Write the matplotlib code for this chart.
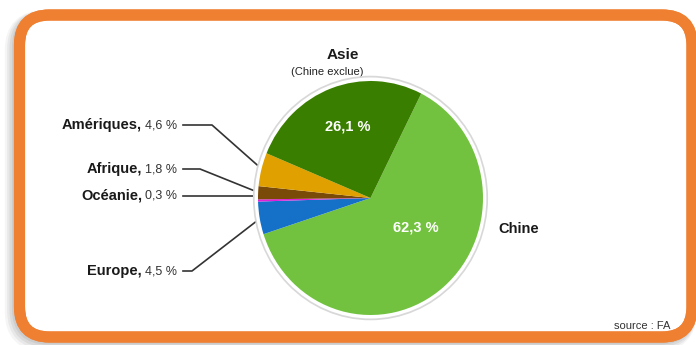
import numpy as np
import matplotlib.pyplot as plt
from matplotlib.patches import FancyBboxPatch, Circle

# Data
regions = ['Chine', 'Europe', 'Océanie', 'Afrique', 'Amériques', 'Asie']
shares = [62.3, 4.5, 0.3, 1.8, 4.6, 26.1]
colors = ['#72c240', '#1570c8', '#e020d8', '#7a4a08', '#e0a000', '#3a7e00']
side_labels = ['Amériques', 'Afrique', 'Océanie', 'Europe']
side_values = ['4,6 %', '1,8 %', '0,3 %', '4,5 %']

W, H = 696, 345
fig = plt.figure(figsize=(W / 100, H / 100), dpi=100)
fig.patch.set_facecolor('white')

# background axes in pixel coords
bg = fig.add_axes([0, 0, 1, 1])
bg.set_xlim(0, W)
bg.set_ylim(H, 0)
bg.axis('off')

# frame shadow + orange rounded border
for i, a in enumerate([0.06, 0.06, 0.05, 0.04]):
    sh = FancyBboxPatch((19.5 - 2 - i, 15 + 2 + i), 672.5, 322,
                        boxstyle='round,pad=0,rounding_size=30',
                        fc='none', ec='black', lw=8 + 2 * i, alpha=a, zorder=1)
    bg.add_patch(sh)
frame = FancyBboxPatch((19.5, 15), 672.5, 322, boxstyle='round,pad=0,rounding_size=30',
                       fc='white', ec='#ef8032', lw=8, zorder=2)
bg.add_patch(frame)

# pie axes (slightly taller than wide, as in the original)
cx, cy, rx, ry = 370.5, 198, 112.5, 117
pad = 1.06
pax = fig.add_axes([(cx - rx * pad) / W, 1 - (cy + ry * pad) / H,
                    2 * rx * pad / W, 2 * ry * pad / H])
pax.add_patch(Circle((0, 0), 1.045, fc='#d8d8d8', ec='none', zorder=0))
pax.add_patch(Circle((0, 0), 1.03, fc='white', ec='none', zorder=0))
wedges, _ = pax.pie(shares, colors=colors, startangle=63.2, counterclock=False,
                    radius=1, wedgeprops=dict(linewidth=0))
pax.set_aspect('auto')
pax.set_xlim(-pad, pad)
pax.set_ylim(-pad, pad)
pax.axis('off')

# inside labels
pax.text(-0.2, 0.61, '26,1 %', color='white', fontsize=10.5, fontweight='bold',
         ha='center', va='center', family='Liberation Sans')
pax.text(0.4, -0.25, '62,3 %', color='white', fontsize=10.5, fontweight='bold',
         ha='center', va='center', family='Liberation Sans')

bg.text(343, 55, 'Asie', fontsize=11, fontweight='bold', ha='center', va='center',
        family='Liberation Sans', color='#1a1a1a', zorder=5)
bg.text(327, 72, '(Chine exclue)', fontsize=8, ha='center', va='center',
        family='Liberation Sans', color='#222222', zorder=5)
bg.text(498, 229, 'Chine', fontsize=10.5, fontweight='bold', ha='left', va='center',
        family='Liberation Sans', color='#1a1a1a', zorder=5)

# side labels with leader lines
def mid(w):
    return np.deg2rad((w.theta1 + w.theta2) / 2)

renderer = fig.canvas.get_renderer()
label_y = [125, 169, 196, 271]
elbow_x = [212, 200, 255, 192]
wmap = {'Amériques': wedges[4], 'Afrique': wedges[3], 'Océanie': wedges[2], 'Europe': wedges[1]}
for name, val, y, ex in zip(side_labels, side_values, label_y, elbow_x):
    t = mid(wmap[name])
    px = cx + rx * 0.99 * np.cos(t)
    py = cy - ry * 0.99 * np.sin(t)
    if name == 'Océanie':
        py = y
    bg.plot([183, ex, px], [y, y, py], color='#333333', lw=1.2, zorder=5)
    vt = bg.text(177, y, val, fontsize=9, ha='right', va='center',
                 family='Liberation Sans', color='#333333', zorder=5)
    vw = vt.get_window_extent(renderer).width
    bg.text(177 - vw - 3, y, name + ',', fontsize=10.5, fontweight='bold', ha='right',
            va='center', family='Liberation Sans', color='#1a1a1a', zorder=5)

bg.text(614, 326, 'source : FA', fontsize=8, ha='left', va='center',
        family='Liberation Sans', color='#333333', zorder=4)
# redraw border over the source text
frame2 = FancyBboxPatch((19.5, 15), 672.5, 322, boxstyle='round,pad=0,rounding_size=30',
                        fc='none', ec='#ef8032', lw=8, zorder=4.5)
bg.add_patch(frame2)

fig.savefig('out.png', dpi=100)
